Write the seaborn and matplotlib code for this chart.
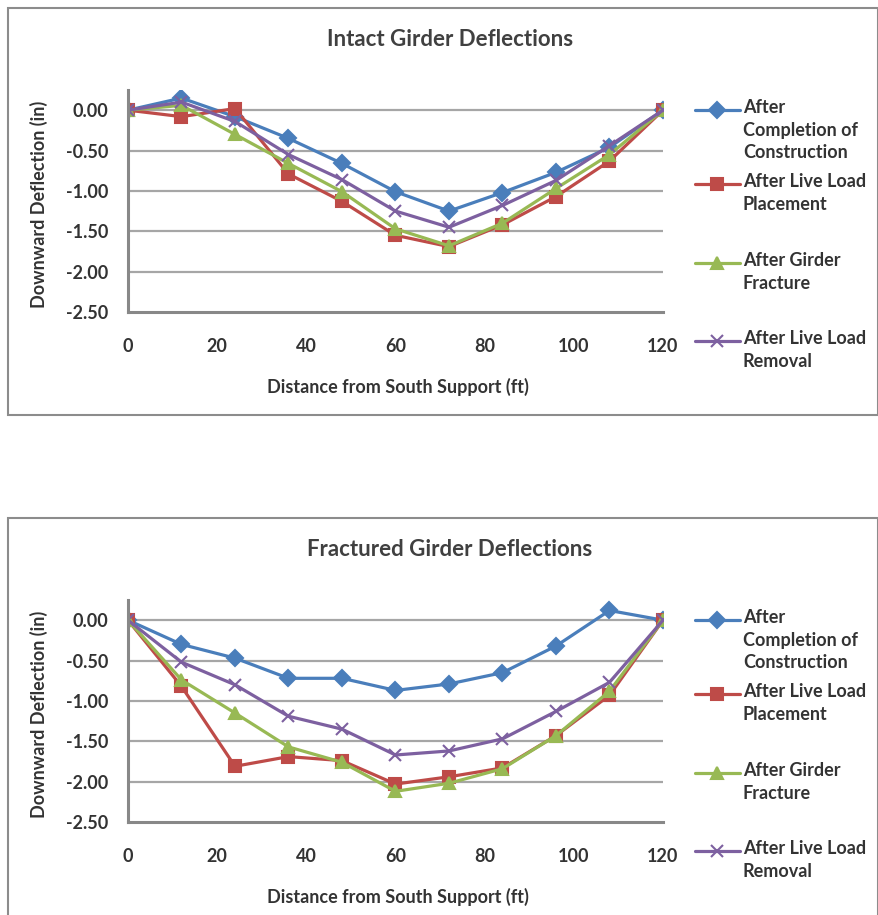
import numpy as np
import pandas as pd
import matplotlib
matplotlib.use("Agg")
import matplotlib.pyplot as plt
from matplotlib.lines import Line2D
from matplotlib.patches import Rectangle
import seaborn as sns

# distance from south support (ft)
distance = [0, 12, 24, 36, 48, 60, 72, 84, 96, 108, 120]

# intact girder deflections (in)
intact_construction = [0, 0.15, -0.08, -0.35, -0.66, -1.01, -1.25, -1.02, -0.77, -0.46, 0]
intact_placement = [0, -0.08, 0.02, -0.79, -1.13, -1.55, -1.69, -1.42, -1.07, -0.63, 0]
intact_fracture = [0, 0.06, -0.30, -0.66, -1.01, -1.47, -1.68, -1.40, -0.97, -0.55, 0]
intact_removal = [0, 0.10, -0.14, -0.55, -0.86, -1.25, -1.45, -1.18, -0.87, -0.44, 0]

# fractured girder deflections (in)
fract_construction = [0, -0.30, -0.47, -0.72, -0.72, -0.87, -0.79, -0.65, -0.32, 0.12, 0]
fract_placement = [0, -0.82, -1.81, -1.69, -1.74, -2.03, -1.94, -1.83, -1.43, -0.93, 0]
fract_fracture = [0, -0.74, -1.15, -1.57, -1.76, -2.12, -2.02, -1.84, -1.43, -0.88, 0]
fract_removal = [0, -0.52, -0.80, -1.19, -1.35, -1.67, -1.62, -1.47, -1.13, -0.77, 0]

series_labels = [
    "After\nCompletion of\nConstruction",
    "After Live Load\nPlacement",
    "After Girder\nFracture",
    "After Live Load\nRemoval",
]
series_colors = ["#4A7EBB", "#BE4B48", "#98B954", "#7D60A0"]
series_markers = ["D", "s", "^", "x"]
y_ticks = [0.0, -0.5, -1.0, -1.5, -2.0, -2.5]
x_ticks = [0, 20, 40, 60, 80, 100, 120]

sns.set_theme(style="white")
plt.rcParams["font.family"] = ["Lato", "DejaVu Sans"]
plt.rcParams["font.weight"] = "bold"

W, H = 879, 915
TEXT = "#333333"
fig = plt.figure(figsize=(W / 100, H / 100), dpi=100)


def px_axes(left, top, right, bottom):
    return fig.add_axes([left / W, 1 - bottom / H, (right - left) / W, (bottom - top) / H])


def draw_chart(off, title, data):
    # chart frame
    fig.add_artist(Rectangle((8 / W, 1 - (415 + off) / H), 870 / W, 407 / H,
                             transform=fig.transFigure, fill=False,
                             edgecolor="#8c8c8c", lw=1.5))
    ax = px_axes(128, 90 + off, 663, 312 + off)
    for i, vals in enumerate(data):
        df = pd.DataFrame({"dist": distance, "defl": vals})
        ms = 8 if series_markers[i] != "x" else 9
        sns.lineplot(data=df, x="dist", y="defl", ax=ax, color=series_colors[i],
                     marker=series_markers[i], markersize=ms, lw=2.3,
                     markeredgecolor=series_colors[i], markeredgewidth=1.5,
                     legend=False)
    ax.set_xlim(0, 120)
    ax.set_ylim(-2.5, 0.25)
    ax.set_xticks(x_ticks)
    ax.set_yticks(y_ticks)
    ax.set_yticklabels([f"{v:.2f}" for v in y_ticks])
    for v in y_ticks[:-1]:
        ax.axhline(v, color="#a6a6a6", lw=1.6, zorder=0)
    for s in ["top", "right"]:
        ax.spines[s].set_visible(False)
    for s in ["left", "bottom"]:
        ax.spines[s].set_color("#888888")
        ax.spines[s].set_linewidth(2.2)
    ax.tick_params(axis="x", length=0, pad=19, labelsize=13, labelcolor=TEXT)
    ax.tick_params(axis="y", length=0, pad=14, labelsize=13, labelcolor=TEXT)
    ax.set_xlabel("Distance from South Support (ft)", fontsize=13, color=TEXT,
                  fontweight="bold")
    ax.xaxis.label.set_va("center")
    ax.xaxis.set_label_coords(0.505, -0.338)
    ax.set_ylabel("Downward Deflection (in)", fontsize=13, color=TEXT,
                  fontweight="bold")
    ax.yaxis.label.set_va("center")
    ax.yaxis.set_label_coords(-0.166, 0.486)
    fig.text(450 / W, 1 - (40 + off) / H, title, ha="center", va="center",
             fontsize=16, color="#404040", fontweight="bold")

    # legend at right, marker aligned with first label line
    legend_y = [110, 184, 263, 341]
    for i, y in enumerate(legend_y):
        yy = 1 - (y + off) / H
        fig.add_artist(Line2D([695 / W, 717 / W, 740 / W], [yy, yy, yy],
                              transform=fig.transFigure, color=series_colors[i],
                              lw=2.3, marker=series_markers[i], markevery=[1],
                              markersize=8, markeredgewidth=1.5))
        fig.text(743 / W, yy + 11 / H, series_labels[i], ha="left", va="top",
                 fontsize=13, color=TEXT, fontweight="bold", linespacing=1.4)
    return ax


draw_chart(0, "Intact Girder Deflections",
           [intact_construction, intact_placement, intact_fracture, intact_removal])
draw_chart(510, "Fractured Girder Deflections",
           [fract_construction, fract_placement, fract_fracture, fract_removal])

fig.savefig("out.png", dpi=100, facecolor="white")
